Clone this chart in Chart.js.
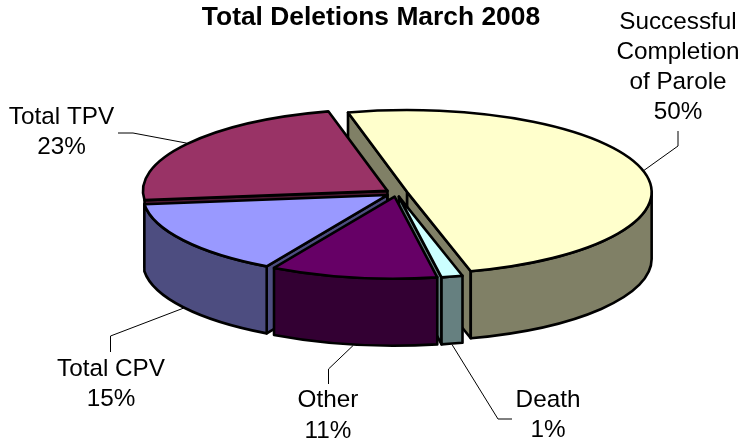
<!DOCTYPE html>
<html>
<head>
<meta charset="utf-8">
<script src="https://cdn.jsdelivr.net/npm/chart.js@4"></script>
<style>html,body{margin:0;padding:0;background:#fff}canvas{display:block}</style>
</head>
<body>
<canvas id="c" width="742" height="441"></canvas>
<script>
const chartTitle = "Total Deletions March 2008";
const categories = ["Successful Completion of Parole", "Death", "Other", "Total CPV", "Total TPV"];
const labelLines = [["Successful", "Completion", "of Parole"], ["Death"], ["Other"], ["Total CPV"], ["Total TPV"]];
const values = [49.7, 1.4, 11, 15, 22.9];
const topColors = ["#FFFFCC", "#CCFFFF", "#660066", "#9999FF", "#993366"];
const wallColors = ["#808066", "#668080", "#330033", "#4D4D80", "#4D1A33"];
const paintOrder = [0, 4, 3, 1, 2];

// Layout of the tilted pie on the page
const pie = {cx: 396.5, cy: 193, rx: 244.5, ry: 82, depth: 67, explode: 11, rotation: -14, pen: 2.6};
const labelBoxes = [
  {x: 678, y: 22,  gap: 30, elbow: [[678,131],[678,146]]},
  {x: 548, y: 400, gap: 30, elbow: [[512,419],[498,419]]},
  {x: 328, y: 400, gap: 31, elbow: [[328.5,384],[328.5,369]]},
  {x: 111, y: 369, gap: 30, elbow: [[110.5,352],[110.5,336]]},
  {x: 61.5, y: 117, gap: 30, elbow: [[118,133],[133,133]]}
];

const tiltPlugin = {
  id: "tilt",
  beforeDatasetDraw(chart, args) {
    const ctx = chart.ctx;
    const arcs = chart.getDatasetMeta(args.index).data;
    const first = arcs[0];
    const sx = pie.rx / first.outerRadius, sy = pie.ry / first.outerRadius;
    const ex = pie.explode, ey = pie.explode * pie.ry / pie.rx;
    const total = values.reduce((a, b) => a + b, 0);

    const geom = a => {
      const mid = (a.startAngle + a.endAngle) / 2;
      const ax = pie.cx + Math.cos(mid) * ex;
      const ay = pie.cy + Math.sin(mid) * ey;
      return {mid, ax, ay};
    };
    const rim = (g, ang) => [g.ax + Math.cos(ang) * pie.rx, g.ay + Math.sin(ang) * pie.ry];

    const wallStyle = color => {
      ctx.fillStyle = color;
      ctx.strokeStyle = "#000";
      ctx.lineWidth = pie.pen;
      ctx.lineJoin = "round";
    };
    const cutFace = (g, ang, color) => {
      const p = rim(g, ang);
      ctx.beginPath();
      ctx.moveTo(g.ax, g.ay);
      ctx.lineTo(p[0], p[1]);
      ctx.lineTo(p[0], p[1] + pie.depth);
      ctx.lineTo(g.ax, g.ay + pie.depth);
      ctx.closePath();
      wallStyle(color);
      ctx.fill();
      ctx.stroke();
    };

    paintOrder.forEach(i => {
      const a = arcs[i];
      const s = a.startAngle, e = a.endAngle;
      const g = geom(a);
      if (-Math.cos(s) > 0) cutFace(g, s, wallColors[i]);
      if (Math.cos(e) > 0) cutFace(g, e, wallColors[i]);
      const twoPi = Math.PI * 2;
      let s0 = s, e0 = e;
      while (e0 > Math.PI + 1e-6 && s0 > 0) { s0 -= twoPi; e0 -= twoPi; }
      const lo = Math.max(s0, 0), hi = Math.min(e0, Math.PI);
      if (hi > lo) {
        ctx.beginPath();
        ctx.ellipse(g.ax, g.ay, pie.rx, pie.ry, 0, lo, hi);
        ctx.ellipse(g.ax, g.ay + pie.depth, pie.rx, pie.ry, 0, hi, lo, true);
        ctx.closePath();
        wallStyle(wallColors[i]);
        ctx.fill();
        ctx.stroke();
      }
      // top face drawn by the library inside the tilted space
      ctx.save();
      ctx.translate(g.ax, g.ay);
      ctx.scale(sx, sy);
      ctx.translate(-a.x, -a.y);
      a.draw(ctx);
      ctx.restore();
      // outline in page space so the pen stays round
      const p = rim(g, s);
      ctx.beginPath();
      ctx.moveTo(g.ax, g.ay);
      ctx.lineTo(p[0], p[1]);
      ctx.ellipse(g.ax, g.ay, pie.rx, pie.ry, 0, s, e);
      ctx.closePath();
      ctx.strokeStyle = "#000";
      ctx.lineWidth = pie.pen;
      ctx.lineJoin = "round";
      ctx.stroke();
    });

    // leaders and labels
    ctx.textAlign = "center";
    ctx.textBaseline = "middle";
    ctx.font = "24.3px 'Liberation Sans', Arial, sans-serif";
    arcs.forEach((a, i) => {
      const g = geom(a);
      const p = rim(g, g.mid);
      const near = Math.sin(g.mid) > 0;
      const box = labelBoxes[i];
      ctx.beginPath();
      box.elbow.forEach((pt, k) => k ? ctx.lineTo(pt[0], pt[1]) : ctx.moveTo(pt[0], pt[1]));
      ctx.lineTo(p[0], p[1] + (near ? pie.depth + 1 : -1));
      ctx.strokeStyle = "#000";
      ctx.lineWidth = 1;
      ctx.stroke();
      ctx.fillStyle = "#000";
      const lines = labelLines[i].concat([Math.round(values[i] / total * 100) + "%"]);
      lines.forEach((t, k) => ctx.fillText(t, box.x, box.y + k * box.gap));
    });
    return false;
  }
};

new Chart(document.getElementById("c"), {
  type: "pie",
  data: {
    labels: categories,
    datasets: [{
      data: values,
      backgroundColor: topColors,
      borderWidth: 0
    }]
  },
  options: {
    responsive: false,
    animation: false,
    rotation: pie.rotation,
    layout: {padding: 0},
    plugins: {
      legend: {display: false},
      tooltip: {enabled: false},
      title: {
        display: true,
        text: chartTitle,
        color: "#000",
        font: {family: "'Liberation Sans', Arial, sans-serif", size: 26.4, weight: "bold"},
        padding: {top: 2, bottom: 6}
      }
    }
  },
  plugins: [tiltPlugin]
});
</script>
</body>
</html>
